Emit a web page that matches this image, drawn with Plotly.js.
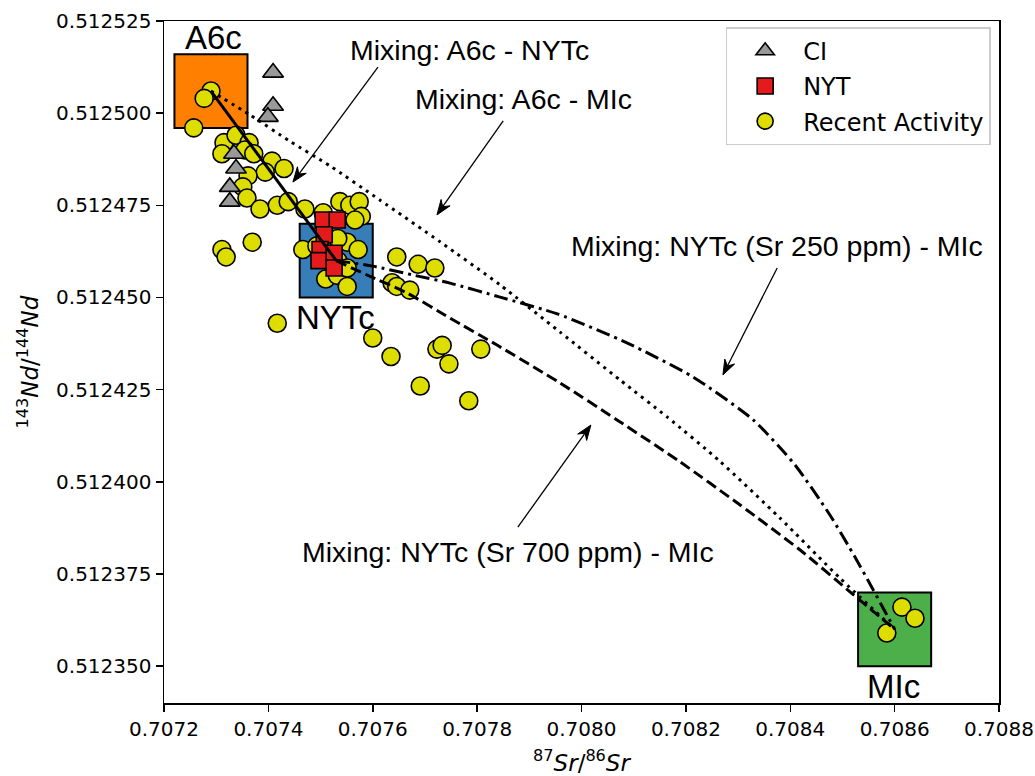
<!DOCTYPE html>
<html>
<head>
<meta charset="utf-8">
<script src="https://cdn.plot.ly/plotly-3.0.1.min.js"></script>
<style>html,body{margin:0;padding:0;background:#fff;}#chart{width:1035px;height:776px;}</style>
</head>
<body>
<div id="chart"></div>
<script>
// ---- Data ----
const srRecent = [0.707290,0.707277,0.707257,0.707315,0.707338,0.707363,0.707311,0.707355,0.707372,0.707407,
  0.707430,0.707394,0.707361,0.707351,0.707359,0.707384,0.707417,0.707438,0.707470,0.707311,
  0.707319,0.707369,0.707417,0.707505,0.707537,0.707556,0.707574,0.707578,0.707566,0.707466,
  0.707493,0.707551,0.707572,0.707533,0.707510,0.707532,0.707551,0.707646,0.707687,0.707719,
  0.707637,0.707646,0.707671,0.707600,0.707635,0.707723,0.707733,0.707746,0.707691,0.707784,
  0.707807,0.708614,0.708639,0.708585,0.707533,0.707551];
const ndRecent = [0.512506,0.512504,0.512496,0.512492,0.512494,0.512492,0.512489,0.512490,0.512489,0.512487,
  0.512485,0.512484,0.512483,0.512480,0.512477,0.512474,0.512475,0.512476,0.512474,0.512463,
  0.512461,0.512465,0.512443,0.512473,0.512476,0.512475,0.512476,0.512472,0.512471,0.512463,
  0.512464,0.512465,0.512463,0.512460,0.512455,0.512456,0.512453,0.512461,0.512459,0.512458,
  0.512454,0.512453,0.512452,0.512439,0.512434,0.512436,0.512437,0.512432,0.512426,0.512422,
  0.512436,0.512366,0.512363,0.512359,0.512466,0.512458];

const srCI = [0.707409,0.707409,0.707399,0.707334,0.707338,0.707326,0.707326];
const ndCI = [0.512511,0.512502,0.512499,0.512489,0.512485,0.512480,0.512476];

const srNYT = [0.707505,0.707532,0.707507,0.707499,0.707497,0.707526,0.707526];
const ndNYT = [0.512471,0.512471,0.512467,0.512463,0.512460,0.512462,0.512458];

// end-members (box centre and half widths)
const endNames = ["A6c","NYTc","MIc"];
const endSr = [0.70729, 0.70753, 0.70860];
const endNd = [0.512506, 0.512460, 0.512360];
const endColors = ["#ff7f00","#377eb8","#4daf4a"];
const boxHalfSr = 0.00007;
const boxHalfNd = 0.00001;

// mixing curves
const mixA6cNYTcSr = [0.70729, 0.70753];
const mixA6cNYTcNd = [0.512506, 0.512460];

const mixA6cMIcSr = [0.707290,0.707365,0.707441,0.707518,0.707614,0.707729,0.707844,0.707959,0.708074,0.708164,0.708265,0.708380,0.708495,0.708600];
const mixA6cMIcNd = [0.512506,0.5124995,0.5124924,0.5124857,0.5124764,0.5124651,0.5124534,0.5124406,0.5124276,0.5124176,0.5124056,0.5123902,0.5123739,0.512360];

const mix250Sr = [0.707530,0.707600,0.707677,0.707748,0.707844,0.707955,0.708087,0.708214,0.708329,0.708409,0.708476,0.708524,0.708557,0.708582,0.708600];
const mix250Nd = [0.512460,0.5124585,0.5124561,0.5124539,0.5124501,0.5124455,0.5124377,0.5124284,0.5124168,0.5124046,0.512391,0.5123796,0.5123712,0.5123647,0.512360];

const mix700Sr = [0.707530,0.707589,0.707666,0.707748,0.707838,0.707959,0.708068,0.708189,0.708304,0.708419,0.708515,0.708600];
const mix700Nd = [0.512460,0.5124561,0.5124512,0.5124444,0.5124371,0.5124268,0.5124168,0.5124054,0.5123937,0.5123815,0.5123701,0.512360];

// annotation texts and anchor points
const annTexts = ["Mixing: A6c - NYTc","Mixing: A6c - MIc","Mixing: NYTc (Sr 250 ppm) - MIc","Mixing: NYTc (Sr 700 ppm) - MIc"];
const annTextSr = [0.707786,0.707888,0.708375,0.707859];
const annTextNd = [0.5125171,0.5125038,0.5124640,0.5123810];
const annTailSr = [0.707610,0.707850,0.708375,0.707878];
const annTailNd = [0.5125125,0.5124979,0.5124580,0.5123877];
const annTipSr = [0.707447,0.707723,0.708271,0.708018];
const annTipNd = [0.5124813,0.5124724,0.5124290,0.5124154];

const labelSr = [0.707294, 0.707528, 0.708597];
const labelNd = [0.5125204, 0.5124445, 0.5123445];

// ---- Layout geometry ----
const W = 1035, H = 776;
const margin = {l: 164, r: 36, t: 21, b: 73, pad: 0};
const xRange = [0.7072, 0.7088];
const yRange = [0.51234, 0.512525];

// ---- Traces ----
const lineCol = "#000";
const traces = [
  {x: srRecent, y: ndRecent, mode: "markers", type: "scatter", name: "Recent Activity",
   legendrank: 3, legendgroup: "c",
   marker: {symbol: "circle", size: 18, color: "#dddd00", line: {color: "#000", width: 1.6}}},
  {x: srCI, y: ndCI, mode: "markers", type: "scatter", name: "CI",
   legendrank: 1, legendgroup: "a",
   marker: {symbol: "triangle-up", size: 18, color: "#999999", line: {color: "#000", width: 1.6}}},
  {x: srNYT, y: ndNYT, mode: "markers", type: "scatter", name: "NYT",
   legendrank: 2, legendgroup: "b",
   marker: {symbol: "square", size: 16, color: "#e41a1c", line: {color: "#000", width: 1.6}}},
  {x: mixA6cNYTcSr, y: mixA6cNYTcNd, mode: "lines", type: "scatter", showlegend: false,
   line: {color: lineCol, width: 3}},
  {x: mixA6cMIcSr, y: mixA6cMIcNd, mode: "lines", type: "scatter", showlegend: false,
   line: {color: lineCol, width: 3, dash: "3px,5px", shape: "spline", smoothing: 0.6}},
  {x: mix250Sr, y: mix250Nd, mode: "lines", type: "scatter", showlegend: false,
   line: {color: lineCol, width: 3, dash: "14px,5px,3px,5px", shape: "spline", smoothing: 0.6}},
  {x: mix700Sr, y: mix700Nd, mode: "lines", type: "scatter", showlegend: false,
   line: {color: lineCol, width: 3, dash: "11px,5px", shape: "spline", smoothing: 0.6}}
];

// ---- Shapes (end-member boxes) ----
const shapes = endSr.map((s, i) => ({
  type: "rect", xref: "x", yref: "y", layer: "below",
  x0: s - boxHalfSr, x1: s + boxHalfSr, y0: endNd[i] - boxHalfNd, y1: endNd[i] + boxHalfNd,
  fillcolor: endColors[i], line: {color: "#000", width: 2}
}));

// ---- Arrows (shaft + filled head), head size in pixels converted to data units ----
const kx = (W - margin.l - margin.r) / (xRange[1] - xRange[0]);
const ky = (H - margin.t - margin.b) / (yRange[1] - yRange[0]);
const headLen = 15, headHalf = 5.5, headNotch = 5;
annTipSr.forEach((tipX, i) => {
  const tipY = annTipNd[i], tailX = annTailSr[i], tailY = annTailNd[i];
  const dx = (tipX - tailX) * kx, dy = -(tipY - tailY) * ky;
  const len = Math.hypot(dx, dy), ux = dx / len, uy = dy / len;
  const px = -uy, py = ux;
  const toData = (ox, oy) => [tipX + ox / kx, tipY - oy / ky];
  const left = toData(-headLen * ux + headHalf * px, -headLen * uy + headHalf * py);
  const right = toData(-headLen * ux - headHalf * px, -headLen * uy - headHalf * py);
  const notch = toData(-(headLen - headNotch) * ux, -(headLen - headNotch) * uy);
  shapes.push({type: "line", xref: "x", yref: "y", x0: tailX, y0: tailY, x1: notch[0], y1: notch[1],
    line: {color: "#000", width: 1.3}});
  shapes.push({type: "path", xref: "x", yref: "y",
    path: "M" + tipX + "," + tipY + " L" + left[0] + "," + left[1] + " L" + notch[0] + "," + notch[1] +
          " L" + right[0] + "," + right[1] + " Z",
    fillcolor: "#000", line: {color: "#000", width: 1}});
});

// ---- Annotations (texts) ----
const annotations = [];
annTexts.forEach((t, i) => {
  annotations.push({x: annTextSr[i], y: annTextNd[i], xref: "x", yref: "y", text: t, showarrow: false,
    xanchor: "center", yanchor: "middle", font: {family: "Liberation Sans, Arial, sans-serif", size: 28.5, color: "#000"}});
});
endNames.forEach((n, i) => {
  annotations.push({x: labelSr[i], y: labelNd[i], xref: "x", yref: "y", text: n, showarrow: false,
    xanchor: "center", yanchor: "middle", font: {family: "Liberation Sans, Arial, sans-serif", size: 33, color: "#000"}});
});

const tickFont = {family: "DejaVu Sans, sans-serif", size: 20, color: "#000"};
const layout = {
  width: W, height: H,
  margin: margin,
  paper_bgcolor: "#fff", plot_bgcolor: "#fff",
  showlegend: true,
  xaxis: {range: xRange, tick0: 0.7072, dtick: 0.0002, tickformat: ".4f",
    showgrid: false, zeroline: false, showline: true, linecolor: "#000", linewidth: 1.5, mirror: true,
    ticks: "outside", ticklen: 7, tickwidth: 1.5, tickcolor: "#000", tickfont: tickFont,
    title: {text: "<sup>87</sup><i>Sr</i>/<sup>86</sup><i>Sr</i>", font: {family: "DejaVu Sans, sans-serif", size: 23, color: "#000"}, standoff: 17}},
  yaxis: {range: yRange, tick0: 0.51235, dtick: 0.000025, tickformat: ".6f",
    showgrid: false, zeroline: false, showline: true, linecolor: "#000", linewidth: 1.5, mirror: true,
    ticks: "outside", ticklen: 7, tickwidth: 1.5, tickcolor: "#000", tickfont: tickFont,
    title: {text: "<sup>143</sup><i>Nd</i>/<sup>144</sup><i>Nd</i>", font: {family: "DejaVu Sans, sans-serif", size: 23, color: "#000"}, standoff: 11}},
  legend: {x: 0.99, xanchor: "right", y: 0.991, yanchor: "top", bgcolor: "#fff",
    bordercolor: "#cccccc", borderwidth: 1.5, font: {family: "DejaVu Sans, sans-serif", size: 24, color: "#000"},
    itemwidth: 66, traceorder: "grouped", tracegroupgap: 1},
  shapes: shapes,
  annotations: annotations
};

Plotly.newPlot("chart", traces, layout, {displayModeBar: false, staticPlot: true});
</script>
</body>
</html>
